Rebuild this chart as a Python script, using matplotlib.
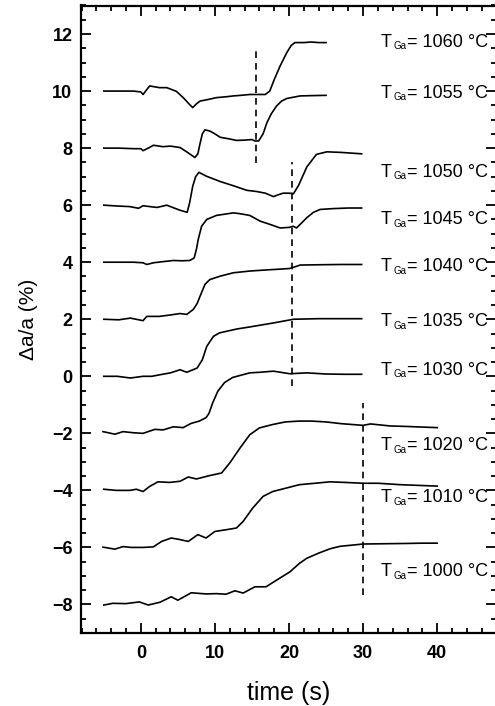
import matplotlib
matplotlib.use("Agg")
import matplotlib.pyplot as plt
from matplotlib.ticker import MultipleLocator
from matplotlib.transforms import offset_copy

plt.rcParams['font.family'] = ['Liberation Sans', 'DejaVu Sans']

# curves: time (s) and delta a / a (%)
t1060 = [-5, -3, -1, 0, 0.3, 0.8, 1.2, 2.5, 3.5, 4.8, 5.8, 6.5, 7.0, 7.5, 8.0, 9.0, 10.2, 11.5, 12.5,
         13.5, 14.7, 16.0, 16.8, 17.4, 18.0, 18.8, 19.7, 20.3, 20.8, 22, 23, 24, 25]
y1060 = [10.0, 10.0, 10.0, 9.97, 9.88, 10.05, 10.18, 10.12, 10.12, 9.99, 9.75, 9.55, 9.42, 9.55, 9.65,
         9.7, 9.77, 9.8, 9.83, 9.85, 9.88, 9.88, 9.88, 10.0, 10.4, 10.88, 11.35, 11.6, 11.7, 11.7, 11.72,
         11.7, 11.7]

t1055 = [-5, -3, -1, 0, 0.3, 1, 1.7, 3, 4, 5.3, 6.3, 7.3, 7.7, 8.0, 8.3, 8.65, 9.3, 10, 10.7, 11.8,
         12.9, 14, 15, 15.4, 15.9, 16.5, 17.0, 17.6, 18.3, 19, 19.7, 21.5, 23, 25]
y1055 = [8.0, 8.0, 7.98, 7.98, 7.91, 8.0, 8.1, 8.05, 8.07, 8.02, 7.85, 7.67, 7.8, 8.17, 8.5, 8.64, 8.6,
         8.5, 8.38, 8.33, 8.27, 8.28, 8.3, 8.25, 8.25, 8.5, 8.88, 9.2, 9.47, 9.65, 9.74, 9.83, 9.84, 9.85]

t1050 = [-5, -3.2, -1.5, -0.3, 0.3, 1.2, 2.2, 3.5, 4.5, 5.3, 6.26, 6.6, 7.0, 7.4, 7.84, 8.9, 10.7,
         12.5, 14.3, 15.6, 16.8, 17.9, 18.5, 19.2, 20.0, 20.6, 21.3, 22.4, 23.7, 25.1, 27, 29.8]
y1050 = [6.0, 5.97, 5.95, 5.89, 5.98, 5.95, 5.92, 6.0, 5.9, 5.82, 5.75, 6.1, 6.66, 7.0, 7.15, 7.01,
         6.83, 6.68, 6.52, 6.48, 6.42, 6.3, 6.36, 6.42, 6.42, 6.4, 6.7, 7.34, 7.78, 7.87, 7.85, 7.8]

t1045 = [-5, -3, -1, 0.3, 0.8, 1.7, 3, 4.4, 5.5, 6.6, 7.2, 7.5, 7.75, 8.2, 8.9, 10.2, 12.5, 13.4,
         14.7, 16.1, 17.5, 18.8, 20.0, 20.6, 21.0, 21.6, 22.4, 23.3, 24.2, 26, 28, 29.8]
y1045 = [4.0, 4.0, 4.0, 3.98, 3.92, 3.98, 4.02, 4.06, 4.05, 4.06, 4.15, 4.45, 4.8, 5.26, 5.5, 5.64,
         5.73, 5.7, 5.64, 5.44, 5.32, 5.2, 5.22, 5.26, 5.2, 5.35, 5.56, 5.75, 5.85, 5.88, 5.9, 5.9]

t1040 = [-5, -3, -1.4, 0.3, 0.8, 2.5, 4, 5.3, 6.2, 7.1, 7.6, 8.0, 8.65, 9.3, 10.7, 12.5, 14.7, 17,
         19, 20.1, 21.5, 24, 27, 29.8]
y1040 = [2.0, 1.98, 2.04, 1.95, 2.1, 2.1, 2.15, 2.2, 2.17, 2.35, 2.55, 2.81, 3.22, 3.39, 3.51, 3.63,
         3.69, 3.73, 3.76, 3.78, 3.9, 3.91, 3.92, 3.92]

t1035 = [-5, -3.2, -1.4, 0.3, 1.5, 2.7, 4, 5.3, 6.2, 7.6, 8.3, 8.9, 9.8, 10.6, 11.6, 13, 14.7, 17.9,
         20.6, 24, 27, 29.8]
y1035 = [0.0, 0.0, -0.06, 0.0, 0.0, 0.06, 0.12, 0.23, 0.14, 0.29, 0.58, 1.05, 1.4, 1.52, 1.58, 1.66,
         1.73, 1.87, 2.0, 2.02, 2.02, 2.02]

t1030 = [-5.1, -3.5, -2.4, -1, 0.3, 1.9, 3.0, 4.4, 5.7, 6.8, 7.9, 8.8, 9.2, 9.7, 10.4, 11.3, 12.4,
         13.4, 14.7, 16, 17.9, 20.1, 22.4, 25, 27.5, 29.8]
y1030 = [-1.94, -2.03, -1.94, -1.98, -2.0, -1.86, -1.88, -1.77, -1.8, -1.65, -1.57, -1.45, -1.3, -0.93,
         -0.52, -0.22, -0.04, 0.03, 0.12, 0.14, 0.18, 0.09, 0.12, 0.08, 0.07, 0.07]

t1020 = [-5, -3.3, -1.5, -0.6, 0.3, 1.2, 2.3, 3.9, 5.3, 6.4, 7.5, 9.3, 10.9, 12.0, 13.4, 14.7, 16.0,
         17.8, 19.5, 21.4, 23, 25, 27, 29, 30, 31, 33.6, 36, 38, 40]
y1020 = [-3.96, -4.0, -4.0, -3.96, -4.04, -3.86, -3.7, -3.72, -3.68, -3.53, -3.6, -3.48, -3.39, -3.04,
         -2.51, -2.05, -1.81, -1.69, -1.6, -1.57, -1.57, -1.6, -1.66, -1.7, -1.72, -1.67, -1.74, -1.76,
         -1.78, -1.8]

t1010 = [-5.1, -3.5, -2.4, -1.3, 0.3, 1.7, 2.8, 4.1, 5.2, 6.4, 7.7, 8.8, 10.0, 11.5, 12.9, 13.8, 15.1,
         16.5, 17.8, 19.6, 21.4, 23.5, 25.5, 27.5, 30, 32, 35, 38, 40]
y1010 = [-5.99, -6.06, -5.97, -6.0, -6.0, -5.98, -5.79, -5.67, -5.72, -5.79, -5.55, -5.67, -5.44, -5.38,
         -5.32, -5.09, -4.62, -4.21, -4.04, -3.92, -3.8, -3.75, -3.7, -3.72, -3.75, -3.75, -3.8, -3.83,
         -3.85]

t1000 = [-5, -3.8, -2.0, -0.2, 1.0, 2.6, 4.1, 5.0, 6.8, 8.8, 10.2, 11.5, 12.7, 13.8, 15.4, 16.9, 18.3,
         20.1, 21.4, 22.4, 24, 25.5, 26.9, 28.5, 30, 33, 36, 38, 40]
y1000 = [-8.02, -7.96, -7.97, -7.91, -8.02, -7.92, -7.73, -7.85, -7.59, -7.63, -7.62, -7.64, -7.52, -7.6,
         -7.38, -7.38, -7.15, -6.86, -6.56, -6.38, -6.2, -6.05, -5.96, -5.92, -5.88, -5.87, -5.86, -5.85,
         -5.85]

curves = [(t1060, y1060), (t1055, y1055), (t1050, y1050), (t1045, y1045), (t1040, y1040),
          (t1035, y1035), (t1030, y1030), (t1020, y1020), (t1010, y1010), (t1000, y1000)]

temps = [1060, 1055, 1050, 1045, 1040, 1035, 1030, 1020, 1010, 1000]
label_y = [11.56, 9.77, 7.0, 5.34, 3.68, 1.75, 0.06, -2.6, -4.4, -7.0]
label_x = 32.4

# vertical dashed markers: time, y from, y to
marker_t = [15.5, 20.4, 30.0]
marker_lo = [7.49, -0.35, -7.67]
marker_hi = [11.52, 7.5, -0.93]

fig = plt.figure(figsize=(4.95, 7.06), dpi=100)
ax = fig.add_axes([80.8 / 495, 1 - 633 / 706, (496.5 - 80.8) / 495, (633 - 5.5) / 706])

for t, y in curves:
    ax.plot(t, y, color='black', lw=1.2)

for xm, lo, hi in zip(marker_t, marker_lo, marker_hi):
    ax.plot([xm, xm], [lo, hi], color='black', lw=1.2, dashes=(4, 3))

# T, subscript Ga, then the value
sub_tr = offset_copy(ax.transData, fig=fig, x=8.8, y=-2.0, units='points')
val_tr = offset_copy(ax.transData, fig=fig, x=19.0, y=0, units='points')
for T, ly in zip(temps, label_y):
    ax.text(label_x, ly, 'T', fontsize=13, va='baseline', ha='left')
    ax.text(label_x, ly, 'Ga', fontsize=7, va='baseline', ha='left', transform=sub_tr)
    ax.text(label_x, ly, '= %d °C' % T, fontsize=13, va='baseline', ha='left', transform=val_tr)

ax.set_xlim(-8.1, 48)
ax.set_ylim(-9, 13)
ax.xaxis.set_major_locator(MultipleLocator(10))
ax.xaxis.set_minor_locator(MultipleLocator(2))
ax.yaxis.set_major_locator(MultipleLocator(2))
ax.yaxis.set_minor_locator(MultipleLocator(0.5))
ax.tick_params(which='both', direction='in', top=True, right=True, width=1.3)
ax.tick_params(which='major', length=7, labelsize=13)
ax.tick_params(which='minor', length=3.5)
ax.tick_params(axis='y', pad=6)
ax.tick_params(axis='x', pad=9)
for lab in ax.get_xticklabels() + ax.get_yticklabels():
    lab.set_fontweight('bold')
for s in ax.spines.values():
    s.set_linewidth(1.6)

ax.set_xlabel('time (s)', fontsize=18, labelpad=13)
ax.set_ylabel('Δa/a (%)', fontsize=15, labelpad=10)

fig.savefig('out.png', dpi=100)
